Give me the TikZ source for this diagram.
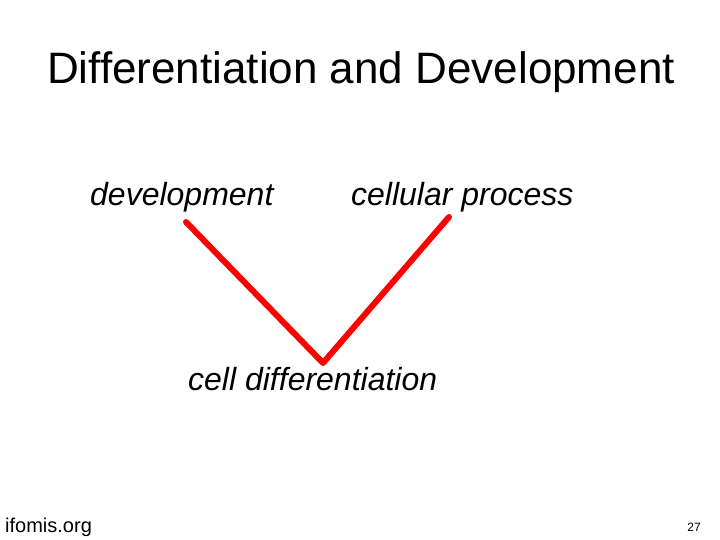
\documentclass[tikz,border=0pt]{standalone}
\usepackage{fontspec}
\setmainfont{Liberation Sans}
\begin{document}
\begin{tikzpicture}[x=1pt,y=-1pt,
  lbl/.style={inner sep=0pt,anchor=base west,font=\fontsize{32}{36}\selectfont\itshape},
  link/.style={draw=red,line width=6pt,line cap=round,line join=round}]
\useasboundingbox (0,0) rectangle (720,540);
\node[inner sep=0pt,anchor=base,font=\fontsize{44}{48}\selectfont] (title) at (361,84) {Differentiation and Development};
\node[lbl] (dev) at (90,206) {development};
\node[lbl] (cp) at (351,206) {cellular process};
\node[lbl] (cd) at (188,390) {cell differentiation};
\node[inner sep=0pt,anchor=base west,font=\fontsize{20}{24}\selectfont] (org) at (5,532) {ifomis.org};
\node[inner sep=0pt,anchor=base east,font=\fontsize{12}{14}\selectfont] (num) at (701,531) {27};
\coordinate (a) at (186,222);
\coordinate (v) at (323,363);
\coordinate (b) at (449,217);
\draw[link] (a) -- (v) -- (b);
\end{tikzpicture}
\end{document}
